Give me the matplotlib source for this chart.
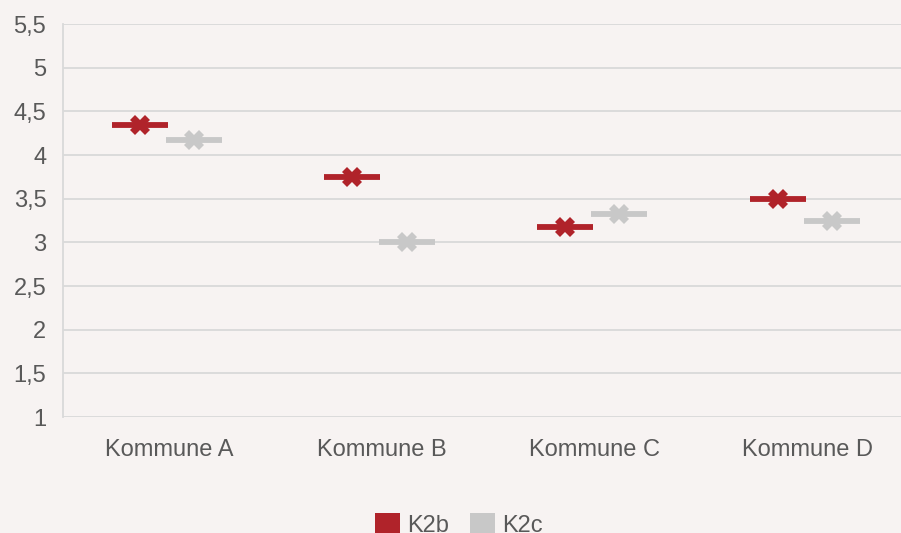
import numpy as np
import matplotlib.pyplot as plt
from matplotlib.patches import Patch

plt.rcParams["font.family"] = ["Liberation Sans", "DejaVu Sans"]

categories = ["Kommune A", "Kommune B", "Kommune C", "Kommune D"]
k2b = [4.34, 3.75, 3.17, 3.50]
k2c = [4.17, 3.00, 3.33, 3.25]
yticks = [1, 1.5, 2, 2.5, 3, 3.5, 4, 4.5, 5, 5.5]

RED = "#B0232A"
GREY = "#C8C8C8"
BG = "#F7F3F2"
TXT = "#595959"

fig = plt.figure(figsize=(9.01, 5.33), dpi=100, facecolor=BG)
ax = fig.add_axes([63 / 901, 116 / 533, 851 / 901, 393 / 533], facecolor=BG)

x = np.arange(len(categories))
for vals, off, col in [(k2b, -0.14, RED), (k2c, 0.115, GREY)]:
    ax.plot(x + off, vals, linestyle="none", marker="_", markersize=40,
            markeredgewidth=4.2, color=col, zorder=3)
    ax.plot(x + off, vals, linestyle="none", marker="X", markersize=14.5,
            color=col, markeredgewidth=0, zorder=4)

ax.set_xlim(-0.5, 3.5)
ax.set_ylim(1, 5.5)
ax.set_yticks(yticks)
ax.set_yticklabels([f"{t:g}".replace(".", ",") for t in yticks])
ax.set_xticks(x)
ax.set_xticklabels(categories)
ax.tick_params(axis="both", length=0, labelsize=17, colors=TXT)
ax.tick_params(axis="y", pad=12)
ax.tick_params(axis="x", pad=16)
ax.grid(axis="y", color="#D9D9D9", linewidth=1.3)
ax.set_axisbelow(True)
for s in ["top", "right", "bottom"]:
    ax.spines[s].set_visible(False)
ax.spines["left"].set_color("#D9D9D9")
ax.spines["left"].set_linewidth(1.3)

handles = [Patch(facecolor=RED, label="K2b"), Patch(facecolor=GREY, label="K2c")]
fig.legend(handles=handles, loc="lower center", bbox_to_anchor=(0.509, -0.047),
           ncol=2, frameon=False, fontsize=17, labelcolor=TXT,
           handlelength=1.05, handleheight=1.05, handletextpad=0.3,
           columnspacing=0.9)

fig.savefig("out.png", dpi=100, facecolor=BG)
